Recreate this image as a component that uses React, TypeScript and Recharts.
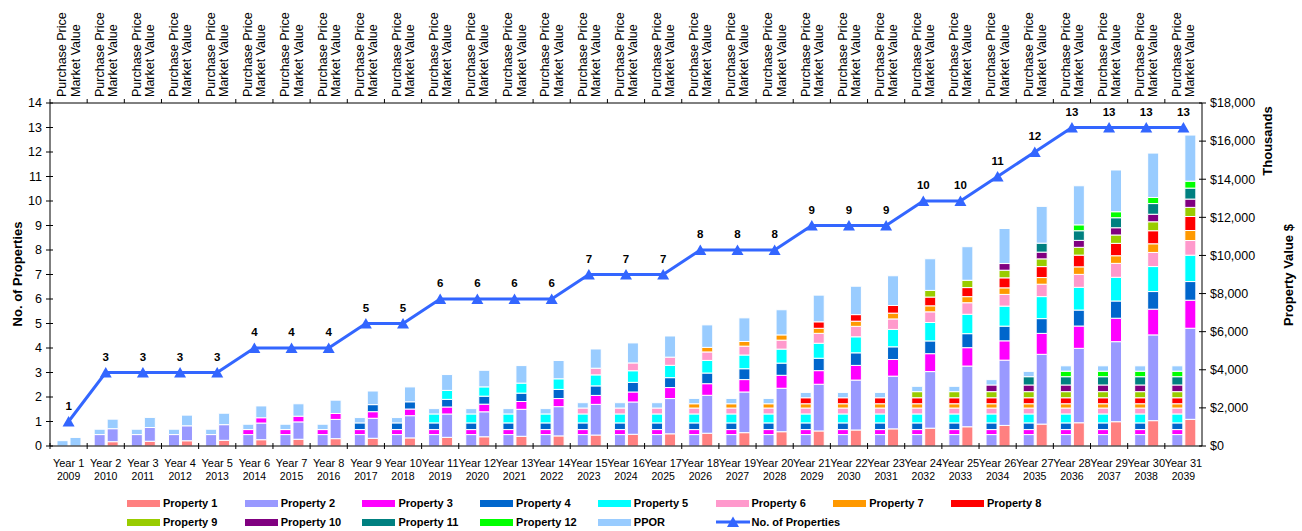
import React from 'react';
import { ComposedChart, Bar, Line, XAxis, YAxis, LabelList } from 'recharts';

const yearLabels = [
  'Year 1', 'Year 2', 'Year 3', 'Year 4', 'Year 5', 'Year 6', 'Year 7', 'Year 8', 'Year 9', 'Year 10',
  'Year 11', 'Year 12', 'Year 13', 'Year 14', 'Year 15', 'Year 16', 'Year 17', 'Year 18', 'Year 19', 'Year 20',
  'Year 21', 'Year 22', 'Year 23', 'Year 24', 'Year 25', 'Year 26', 'Year 27', 'Year 28', 'Year 29', 'Year 30',
  'Year 31',
];
const calendarYears = [
  '2009', '2010', '2011', '2012', '2013', '2014', '2015', '2016', '2017', '2018',
  '2019', '2020', '2021', '2022', '2023', '2024', '2025', '2026', '2027', '2028',
  '2029', '2030', '2031', '2032', '2033', '2034', '2035', '2036', '2037', '2038',
  '2039',
];
const barLabels = ['Purchase Price', 'Market Value'];

// No. of Properties (left axis)
const numProperties = [1, 3, 3, 3, 3, 4, 4, 4, 5, 5, 6, 6, 6, 6, 7, 7, 7, 8, 8, 8, 9, 9, 9, 10, 10, 11, 12, 13, 13, 13, 13];

const leftTicks = [0, 1, 2, 3, 4, 5, 6, 7, 8, 9, 10, 11, 12, 13, 14];
const rightTicks = [0, 2000, 4000, 6000, 8000, 10000, 12000, 14000, 16000, 18000];

const propertyNames = [
  'Property 1', 'Property 2', 'Property 3', 'Property 4', 'Property 5', 'Property 6', 'Property 7',
  'Property 8', 'Property 9', 'Property 10', 'Property 11', 'Property 12', 'PPOR',
];
const propertyColors = [
  '#FF8080', '#9999FF', '#FF00FF', '#0066CC', '#00FFFF', '#FF99CC', '#FF9900',
  '#FF0000', '#99CC00', '#800080', '#008080', '#00FF00', '#99CCFF',
];

// purchase price per property ($ thousands)
const purchasePrice = [0, 600, 262, 350, 470, 310, 225, 315, 320, 350, 435, 290, 280];

// market value per year ($ thousands), null before the property is bought
const mvProperty1 = [null, 226, 250, 275, 300, 330, 355, 385, 405, 425, 455, 485, 510, 530, 575, 615, 640, 670, 700, 750, 790, 840, 900, 935, 1010, 1080, 1150, 1220, 1275, 1330, 1400];
const mvProperty2 = [null, 682, 720, 785, 820, 875, 910, 1010, 1050, 1165, 1225, 1310, 1415, 1535, 1610, 1695, 1850, 1990, 2135, 2280, 2450, 2620, 2765, 2970, 3185, 3425, 3660, 3905, 4200, 4500, 4780];
const mvProperty3 = [null, null, null, null, null, 278, 300, 310, 346, 350, 367, 400, 410, 425, 470, 525, 577, 610, 650, 680, 715, 770, 875, 940, 965, 1015, 1100, 1170, 1230, 1350, 1470];
const mvProperty4 = [null, null, null, null, null, null, null, null, 370, 380, 400, 420, 440, 480, 500, 505, 520, 560, 570, 640, 650, 660, 665, 670, 735, 770, 775, 840, 905, 925, 980];
const mvProperty5 = [null, null, null, null, null, null, null, null, null, null, 472, 488, 525, 556, 577, 609, 646, 661, 719, 735, 787, 840, 913, 966, 1018, 1050, 1155, 1191, 1244, 1312, 1383];
const mvProperty6 = [null, null, null, null, null, null, null, null, null, null, null, null, null, null, 350, 410, 430, 445, 465, 470, 520, 550, 550, 560, 605, 615, 650, 680, 730, 740, 770];
const mvProperty7 = [null, null, null, null, null, null, null, null, null, null, null, null, null, null, null, null, null, 240, 245, 275, 265, 270, 305, 315, 320, 345, 350, 395, 400, 455, 525];
const mvProperty8 = [null, null, null, null, null, null, null, null, null, null, null, null, null, null, null, null, null, null, null, null, 340, 345, 400, 460, 475, 525, 575, 615, 650, 685, 735];
const mvProperty9 = [null, null, null, null, null, null, null, null, null, null, null, null, null, null, null, null, null, null, null, null, null, null, null, 350, 385, 400, 405, 410, 440, 470, 480];
const mvProperty10 = [null, null, null, null, null, null, null, null, null, null, null, null, null, null, null, null, null, null, null, null, null, null, null, null, null, 350, 355, 365, 380, 395, 435];
const mvProperty11 = [null, null, null, null, null, null, null, null, null, null, null, null, null, null, null, null, null, null, null, null, null, null, null, null, null, null, 470, 505, 525, 560, 575];
const mvProperty12 = [null, null, null, null, null, null, null, null, null, null, null, null, null, null, null, null, null, null, null, null, null, null, null, null, null, null, null, 310, 315, 320, 365];
const mvPPOR = [450, 500, 530, 560, 600, 620, 650, 700, 714, 780, 830, 870, 920, 960, 1010, 1050, 1110, 1180, 1240, 1320, 1400, 1490, 1560, 1660, 1760, 1840, 1930, 2050, 2190, 2330, 2420];

const marketValues = [
  mvProperty1, mvProperty2, mvProperty3, mvProperty4, mvProperty5, mvProperty6, mvProperty7,
  mvProperty8, mvProperty9, mvProperty10, mvProperty11, mvProperty12, mvPPOR,
];

const LINE_COLOR = '#3366FF';
const FONT = "'Liberation Sans', Arial, sans-serif";
const PLOT_LEFT = 50;
const PLOT_RIGHT = 1202;
const PLOT_TOP = 103;
const PLOT_BOTTOM = 446;
const BAND = (PLOT_RIGHT - PLOT_LEFT) / yearLabels.length;

const chartData = yearLabels.map((label, i) => {
  const row: Record<string, string | number> = { label, calendar: calendarYears[i], count: numProperties[i] };
  marketValues.forEach((series, k) => {
    const mv = series[i];
    row[`pp${k}`] = mv == null ? 0 : purchasePrice[k];
    row[`mv${k}`] = mv == null ? 0 : mv;
  });
  return row;
});

const BottomTick = (props: any) => {
  const { x, index } = props;
  const left = x - BAND / 2;
  return (
    <g>
      <line x1={left} x2={left} y1={PLOT_BOTTOM - 3} y2={PLOT_BOTTOM + 3} stroke="#000" />
      <text x={x} y={467} textAnchor="middle" fontSize={11} fontFamily={FONT} fill="#000">
        {yearLabels[index]}
      </text>
      <text x={x} y={480} textAnchor="middle" fontSize={10.5} fontFamily={FONT} fill="#000">
        {calendarYears[index]}
      </text>
    </g>
  );
};

const TopTick = (props: any) => {
  const { x } = props;
  const left = x - BAND / 2;
  return (
    <g>
      <line x1={left} x2={left} y1={PLOT_TOP - 4} y2={PLOT_TOP} stroke="#000" />
      <text
        transform={`translate(${x - 6.2},97) rotate(-90)`}
        dominantBaseline="central"
        fontSize={12.5}
        fontFamily={FONT}
        fill="#000"
      >
        {barLabels[0]}
      </text>
      <text
        transform={`translate(${x + 7},97) rotate(-90)`}
        dominantBaseline="central"
        fontSize={12.5}
        fontFamily={FONT}
        fill="#000"
      >
        {barLabels[1]}
      </text>
    </g>
  );
};

const LeftTick = (props: any) => {
  const { y, payload } = props;
  return (
    <g>
      <line x1={PLOT_LEFT - 4} x2={PLOT_LEFT + 3} y1={y} y2={y} stroke="#000" />
      <text x={PLOT_LEFT - 8} y={y} dy="0.35em" textAnchor="end" fontSize={12.5} fontFamily={FONT} fill="#000">
        {payload.value}
      </text>
    </g>
  );
};

const RightTick = (props: any) => {
  const { y, payload } = props;
  return (
    <g>
      <line x1={PLOT_RIGHT - 3} x2={PLOT_RIGHT + 4} y1={y} y2={y} stroke="#000" />
      <text x={PLOT_RIGHT + 8} y={y} dy="0.35em" textAnchor="start" fontSize={12.5} fontFamily={FONT} fill="#000">
        {'$' + Number(payload.value).toLocaleString('en-US')}
      </text>
    </g>
  );
};

const LeftTitle = () => (
  <text
    transform="translate(17,274) rotate(-90)"
    textAnchor="middle"
    dominantBaseline="central"
    fontSize={13}
    fontWeight="bold"
    fontFamily={FONT}
    fill="#000"
  >
    No. of Properties
  </text>
);

const RightTitle = () => (
  <g>
    <text
      transform="translate(1267,141) rotate(-90)"
      textAnchor="middle"
      dominantBaseline="central"
      fontSize={13}
      fontWeight="bold"
      fontFamily={FONT}
      fill="#000"
    >
      Thousands
    </text>
    <text
      transform="translate(1288,275) rotate(-90)"
      textAnchor="middle"
      dominantBaseline="central"
      fontSize={13}
      fontWeight="bold"
      fontFamily={FONT}
      fill="#000"
    >
      Property Value $
    </text>
  </g>
);

const TriangleDot = (props: any) => {
  const { cx, cy, index } = props;
  if (cx == null || cy == null) return null;
  return <path key={`tri-${index}`} d={`M${cx},${cy - 5.5} L${cx + 6},${cy + 5} L${cx - 6},${cy + 5} Z`} fill={LINE_COLOR} />;
};

const CountLabel = (props: any) => {
  const { x, y, value } = props;
  return (
    <text x={x} y={y - 12} textAnchor="middle" fontSize={11.5} fontWeight="bold" fontFamily={FONT} fill="#000">
      {value}
    </text>
  );
};

const legendItems = [...propertyNames.map((name, k) => ({ name, color: propertyColors[k], line: false })), { name: 'No. of Properties', color: LINE_COLOR, line: true }];

const ChartLegend = () => (
  <div style={{ position: 'absolute', left: 0, top: 0, width: 1302, height: 531, pointerEvents: 'none' }}>
    {legendItems.map((item, i) => {
      const col = i < 8 ? i : i - 8;
      const rowY = i < 8 ? 503 : 522;
      const left = 127 + col * 117.7;
      return (
        <div key={item.name} style={{ position: 'absolute', left, top: rowY - 8, height: 16, display: 'flex', alignItems: 'center' }}>
          {item.line ? (
            <svg width={34} height={14} style={{ marginRight: 2 }}>
              <line x1={0} x2={34} y1={7} y2={7} stroke={item.color} strokeWidth={3} />
              <path d="M17,1.5 L23,12 L11,12 Z" fill={item.color} />
            </svg>
          ) : (
            <div style={{ width: 33, height: 7, background: item.color, marginRight: 3 }} />
          )}
          <span style={{ fontFamily: FONT, fontSize: 11, fontWeight: 'bold', color: '#000', whiteSpace: 'nowrap' }}>{item.name}</span>
        </div>
      );
    })}
  </div>
);

export default function App() {
  return (
    <div style={{ position: 'absolute', left: 0, top: 0, width: 1302, height: 531, background: '#fff' }}>
      <ComposedChart
        width={1302}
        height={531}
        data={chartData}
        margin={{ top: 0, right: 0, bottom: 45, left: 0 }}
        barGap={2}
      >
        <XAxis
          xAxisId="bottom"
          dataKey="label"
          orientation="bottom"
          height={40}
          interval={0}
          tickLine={false}
          axisLine={{ stroke: '#000' }}
          tick={<BottomTick />}
        />
        <XAxis
          xAxisId="top"
          dataKey="label"
          orientation="top"
          height={103}
          interval={0}
          tickLine={false}
          axisLine={{ stroke: '#000' }}
          tick={<TopTick />}
        />
        <YAxis
          yAxisId="left"
          orientation="left"
          width={50}
          domain={[0, 14]}
          ticks={leftTicks}
          interval={0}
          tickLine={false}
          axisLine={{ stroke: '#000' }}
          tick={<LeftTick />}
          label={<LeftTitle />}
        />
        <YAxis
          yAxisId="right"
          orientation="right"
          width={100}
          domain={[0, 18000]}
          ticks={rightTicks}
          interval={0}
          tickLine={false}
          axisLine={{ stroke: '#000' }}
          tick={<RightTick />}
          label={<RightTitle />}
        />
        {propertyNames.map((name, k) => (
          <Bar
            key={`pp${k}`}
            name={name}
            dataKey={`pp${k}`}
            stackId="pp"
            xAxisId="bottom"
            yAxisId="right"
            barSize={11}
            fill={propertyColors[k]}
            stroke="#fff"
            strokeWidth={1}
            isAnimationActive={false}
          />
        ))}
        {propertyNames.map((name, k) => (
          <Bar
            key={`mv${k}`}
            name={name}
            dataKey={`mv${k}`}
            stackId="mv"
            xAxisId="bottom"
            yAxisId="right"
            barSize={11}
            fill={propertyColors[k]}
            stroke="#fff"
            strokeWidth={1}
            isAnimationActive={false}
          />
        ))}
        <Line
          name="No. of Properties"
          dataKey="count"
          xAxisId="bottom"
          yAxisId="left"
          stroke={LINE_COLOR}
          strokeWidth={3}
          dot={TriangleDot}
          activeDot={false}
          isAnimationActive={false}
        >
          <LabelList dataKey="count" content={CountLabel} />
        </Line>
      </ComposedChart>
      <ChartLegend />
    </div>
  );
}
